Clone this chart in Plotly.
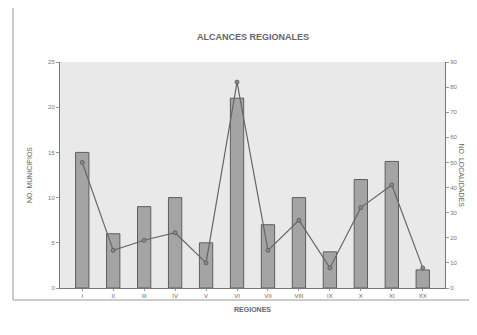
import plotly.graph_objects as go

regiones = ["I", "II", "III", "IV", "V", "VI", "VII", "VIII", "IX", "X", "XI", "XX"]
municipios = [15, 6, 9, 10, 5, 21, 7, 10, 4, 12, 14, 2]
localidades = [50, 15, 19, 22, 10, 82, 15, 27, 8, 32, 41, 8]
left_ticks = [0, 5, 10, 15, 20, 25]
right_ticks = [0, 10, 20, 30, 40, 50, 60, 70, 80, 90]

fig = go.Figure()
fig.add_trace(go.Bar(
    x=regiones, y=municipios, width=0.43,
    marker=dict(color="#a4a4a4", line=dict(color="#5e5e5e", width=1)),
    yaxis="y", showlegend=False,
))
fig.add_trace(go.Scatter(
    x=regiones, y=localidades, mode="lines+markers",
    line=dict(color="#666", width=1.2),
    marker=dict(size=4, color="#8a8a8a", line=dict(color="#555", width=0.8)),
    yaxis="y2", showlegend=False,
))

font = "Liberation Sans, Arial, sans-serif"
W, H = 469, 327
fig.update_layout(
    width=W, height=H,
    margin=dict(l=52, r=32, t=54, b=47),
    paper_bgcolor="white",
    plot_bgcolor="#e9e9e9",
    font=dict(family=font, size=6, color="#777"),
    title=dict(text="<b>ALCANCES REGIONALES</b>", x=(253 - 8) / W, xanchor="center",
               y=1 - 29 / H, yanchor="middle",
               font=dict(size=9, color="#666", family=font)),
    xaxis=dict(showline=True, linecolor="#777", linewidth=1, ticks="outside",
               ticklen=2, tickcolor="#999", showgrid=False, tickfont=dict(size=6, color="#666"),
               title=dict(text="<b>REGIONES</b>", font=dict(size=7, color="#666"), standoff=8)),
    yaxis=dict(range=[0, 25], tickvals=left_ticks, showline=True, linecolor="#777",
               linewidth=1, ticks="outside", ticklen=3, tickcolor="#999",
               showgrid=False, zeroline=False, tickfont=dict(size=6),
               title=dict(text="NO. MUNICIPIOS", font=dict(size=7, color="#666"), standoff=14)),
    yaxis2=dict(range=[0, 90], tickvals=right_ticks, overlaying="y", side="right",
                showline=True, linecolor="#777", linewidth=1, ticks="outside",
                ticklen=3, tickcolor="#999", showgrid=False, zeroline=False,
                tickfont=dict(size=6, color="#777")),
    bargap=0.5,
)
fig.add_annotation(text="NO. LOCALIDADES", xref="paper", yref="paper",
                   x=1 + 22 / 385, y=0.5, textangle=90, showarrow=False,
                   font=dict(size=7, color="#666", family=font))
# outer frame
fig.add_shape(type="rect", xref="paper", yref="paper",
              x0=-47 / 385, x1=1 + 25 / 385, y0=-12 / 226, y1=1 + 55 / 226,
              line=dict(color="#999", width=1), layer="below")

fig.write_html("out.html")
